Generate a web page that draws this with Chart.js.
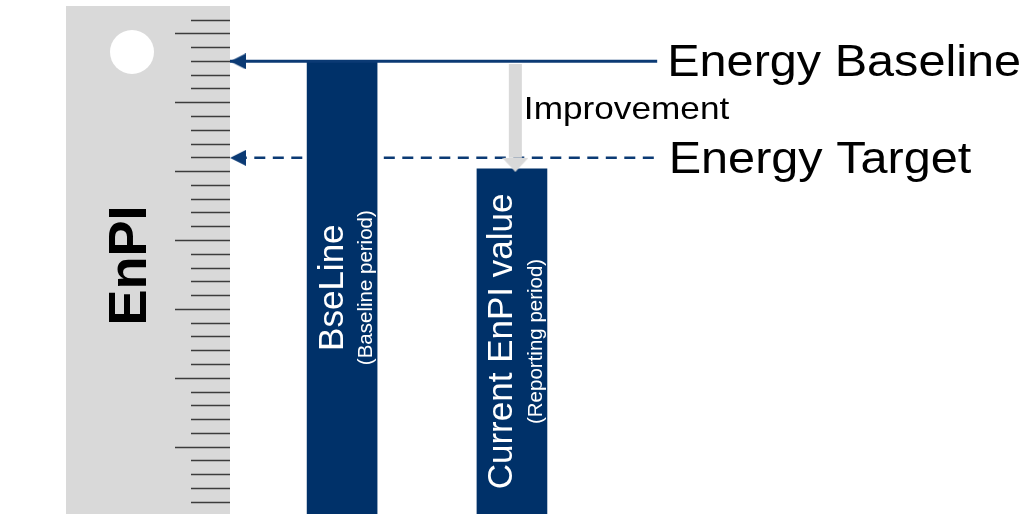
<!DOCTYPE html>
<html>
<head>
<meta charset="utf-8">
<script src="https://cdn.jsdelivr.net/npm/chart.js@4"></script>
<style>
html, body { margin: 0; padding: 0; background: #fff; overflow: hidden; }
#wrap { width: 1030px; height: 514px; }
</style>
</head>
<body>
<div id="wrap"><canvas id="enpiChart"></canvas></div>
<script>
// chart values
const categories = ['BseLine', 'Current EnPI value'];
const periods = ['(Baseline period)', '(Reporting period)'];
const barPositions = [1, 2];
const enpiValues = [33, 25.2];
const baselineLevel = 33;
const targetLevel = 26;
const improvementRange = [32.8, 26];
const improvementX = 2.02;
const guideSpan = [0.34, 2.855];
const rulerTicks = [1, 2, 3, 4, 5, 6, 7, 8, 9, 10, 11, 12, 13, 14, 15, 16, 17, 18,
                    19, 20, 21, 22, 23, 24, 25, 26, 27, 28, 29, 30, 31, 32, 33, 34, 35, 36];
const lineLabels = ['Energy Baseline', 'Energy Target'];
const improvementLabel = 'Improvement';
const axisTitle = 'EnPI';

const fontFamily = '"Liberation Sans", Arial, sans-serif';
const navy = '#003169';
const lineBlue = '#0b3a74';
const grey = '#d9d9d9';

Chart.defaults.font.family = fontFamily;
Chart.defaults.color = '#000';

// arrow heads used as point styles (tip / base sits on the point)
function leftHead(color) {
  const c = document.createElement('canvas');
  c.width = 32; c.height = 16;
  const g = c.getContext('2d');
  g.fillStyle = color;
  g.beginPath();
  g.moveTo(16, 8); g.lineTo(32, 0); g.lineTo(32, 16);
  g.closePath(); g.fill();
  return c;
}
function downHead(color) {
  const c = document.createElement('canvas');
  c.width = 26; c.height = 28;
  const g = c.getContext('2d');
  g.fillStyle = color;
  g.beginPath();
  g.moveTo(0, 14); g.lineTo(26, 14); g.lineTo(13, 28);
  g.closePath(); g.fill();
  return c;
}

const rulerBackground = {
  id: 'rulerBackground',
  beforeDraw(chart) {
    const {ctx} = chart;
    const y = chart.scales.y;
    ctx.save();
    ctx.fillStyle = grey;
    ctx.fillRect(66, 6, y.right - 66, chart.height - 6);
    ctx.fillStyle = '#fff';
    ctx.beginPath();
    ctx.arc(132, 52, 22, 0, Math.PI * 2);
    ctx.fill();
    ctx.restore();
  }
};

const annotations = {
  id: 'annotations',
  afterDatasetsDraw(chart) {
    const {ctx, chartArea} = chart;
    const x = chart.scales.x, y = chart.scales.y;
    const endX = x.getPixelForValue(guideSpan[1]);
    const yBase = y.getPixelForValue(baselineLevel);
    const yTarget = y.getPixelForValue(targetLevel);

    const stretched = (text, px, py, size, sx) => {
      ctx.save();
      ctx.translate(px, py);
      ctx.scale(sx, 1);
      ctx.font = size + 'px ' + fontFamily;
      ctx.fillText(text, 0, 0);
      ctx.restore();
    };

    ctx.save();
    ctx.fillStyle = '#000';
    ctx.textAlign = 'left';
    ctx.textBaseline = 'alphabetic';
    stretched(lineLabels[0], endX + 10, yBase + 14.5, 45, 1.08);
    stretched(lineLabels[1], endX + 11.5, yTarget + 15, 45, 1.08);
    stretched(improvementLabel, x.getPixelForValue(improvementX) + 8.5,
              (yBase + yTarget) / 2 + 9.3, 32, 1.1);

    // white labels inside the bars, rotated
    ctx.fillStyle = '#fff';
    ctx.textAlign = 'center';
    chart.getDatasetMeta(2).data.forEach((bar, i) => {
      const cy = (bar.y + Math.min(bar.base, chartArea.bottom)) / 2;
      ctx.save();
      ctx.translate(bar.x + 0.5, cy);
      ctx.rotate(-Math.PI / 2);
      ctx.font = '35px ' + fontFamily;
      ctx.fillText(categories[i], 0, 0);
      ctx.restore();
      ctx.save();
      ctx.translate(bar.x + 30, cy);
      ctx.rotate(-Math.PI / 2);
      ctx.font = '20.5px ' + fontFamily;
      ctx.fillText(periods[i], 0, 0);
      ctx.restore();
    });
    ctx.restore();
  }
};

new Chart(document.getElementById('enpiChart'), {
  type: 'bar',
  data: {
    datasets: [
      {
        type: 'line',
        label: lineLabels[0],
        data: guideSpan.map(v => ({x: v, y: baselineLevel})),
        borderColor: lineBlue,
        borderWidth: 3,
        pointStyle: leftHead(lineBlue),
        pointRadius: [8, 0],
        order: 0
      },
      {
        type: 'line',
        label: improvementLabel,
        data: improvementRange.map(v => ({x: improvementX, y: v})),
        borderColor: grey,
        borderWidth: 13,
        pointStyle: downHead(grey),
        pointRadius: [0, 8],
        order: 1
      },
      {
        label: 'EnPI',
        data: barPositions.map((p, i) => ({x: p, y: enpiValues[i]})),
        backgroundColor: navy,
        borderWidth: 0,
        barThickness: 70,
        order: 2
      },
      {
        type: 'line',
        label: lineLabels[1],
        data: guideSpan.map(v => ({x: v, y: targetLevel})),
        borderColor: lineBlue,
        borderWidth: 2.5,
        borderDash: [11, 7.5],
        borderDashOffset: 12.7,
        pointStyle: leftHead(lineBlue),
        pointRadius: [8, 0],
        order: 3
      }
    ]
  },
  options: {
    responsive: true,
    maintainAspectRatio: false,
    animation: false,
    events: [],
    layout: { autoPadding: false, padding: { top: 17, left: 0, right: 0, bottom: 0 } },
    plugins: {
      legend: { display: false },
      tooltip: { enabled: false }
    },
    scales: {
      x: {
        type: 'linear',
        display: false,
        offset: false,
        min: 0.34,
        max: 5.05
      },
      y: {
        min: 0.15,
        max: 36.22,
        afterBuildTicks: s => { s.ticks = rulerTicks.map(v => ({value: v})); },
        afterFit: s => { s.width = 230; },
        border: { display: false },
        grid: {
          drawOnChartArea: false,
          drawTicks: true,
          tickLength: 55,
          tickColor: '#3c3c3c',
          tickWidth: 1.4,
          tickBorderDash: ctx => (ctx.tick && ctx.tick.value % 5 === 0) ? [] : [0, 16, 39, 0]
        },
        ticks: { display: false },
        title: {
          display: true,
          text: axisTitle,
          color: '#000',
          font: { size: 54, weight: 'bold', lineHeight: 1 },
          padding: { top: 104, bottom: 0 }
        }
      }
    }
  },
  plugins: [rulerBackground, annotations]
});
</script>
</body>
</html>
